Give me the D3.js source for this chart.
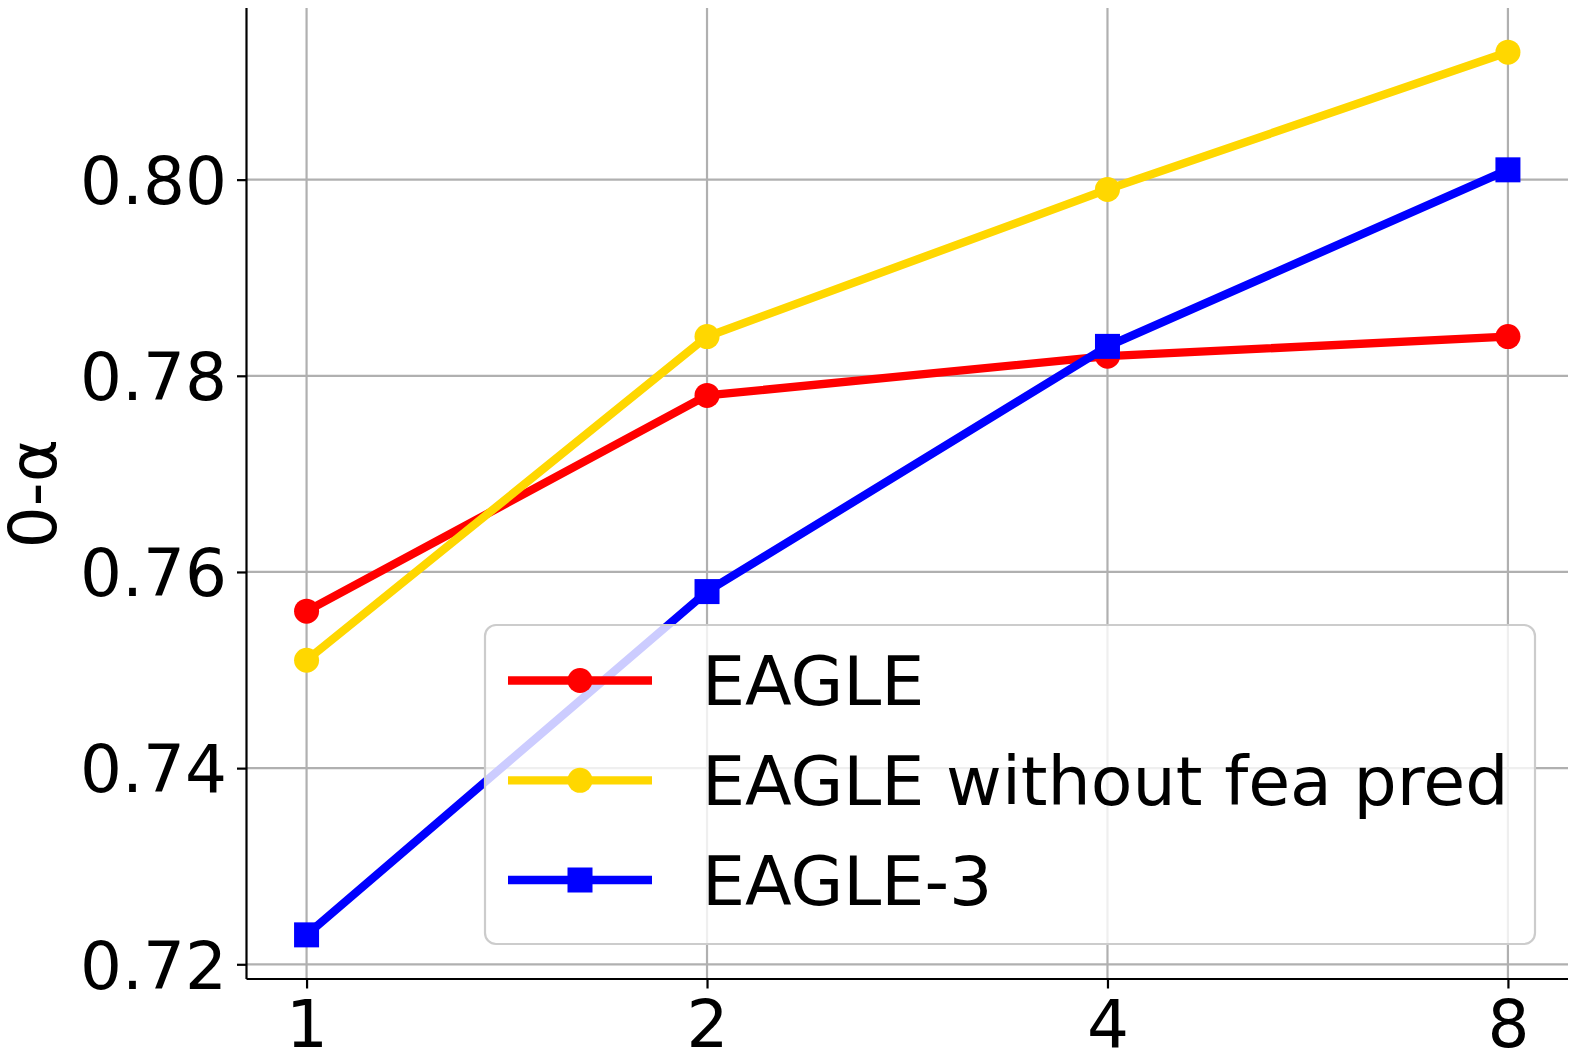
<!DOCTYPE html>
<html>
<head>
<meta charset="utf-8">
<script src="https://cdn.jsdelivr.net/npm/d3@7"></script>
<style>
  html, body { margin: 0; padding: 0; background: #fff; }
  svg { display: block; }
  text { font-family: "DejaVu Sans", sans-serif; }
</style>
</head>
<body>
<svg id="chart" width="1578" height="1057"></svg>
<script>
// ---- data ----
const categories = ["1", "2", "4", "8"];
const eagle = [0.756, 0.778, 0.782, 0.784];
const eagleNoFea = [0.751, 0.784, 0.799, 0.813];
const eagle3 = [0.723, 0.758, 0.783, 0.801];
const yTicks = [0.72, 0.74, 0.76, 0.78, 0.80];
const seriesNames = ["EAGLE", "EAGLE without fea pred", "EAGLE-3"];
const yLabel = "0-α";

const series = [
  { name: seriesNames[0], values: eagle, color: "#ff0000", marker: "circle" },
  { name: seriesNames[1], values: eagleNoFea, color: "#ffd700", marker: "circle" },
  { name: seriesNames[2], values: eagle3, color: "#0000ff", marker: "square" }
];

// ---- layout ----
const L = 246.5, R = 1568, T = 8, B = 979;
const FS = 66;
const LFS = 68.2;
const svg = d3.select("#chart");

const x = d3.scalePoint().domain(categories).range([L, R]).padding(0.15);
const y = d3.scaleLinear().domain([0.7185, 0.8175]).range([B, T]);

// grid
const grid = svg.append("g");
grid.selectAll(".gx").data(categories).enter().append("line")
  .attr("x1", d => x(d)).attr("x2", d => x(d))
  .attr("y1", T).attr("y2", B)
  .attr("stroke", "#b0b0b0").attr("stroke-width", 2.2);
grid.selectAll(".gy").data(yTicks).enter().append("line")
  .attr("x1", L).attr("x2", R)
  .attr("y1", d => y(d)).attr("y2", d => y(d))
  .attr("stroke", "#b0b0b0").attr("stroke-width", 2.2);

// axes
const xAxis = svg.append("g").attr("transform", `translate(0,${B})`)
  .call(d3.axisBottom(x).tickSize(9.5).tickPadding(12));
const yAxis = svg.append("g").attr("transform", `translate(${L},0)`)
  .call(d3.axisLeft(y).tickValues(yTicks).tickFormat(d3.format(".2f")).tickSize(9.5).tickPadding(10));

[xAxis, yAxis].forEach(g => {
  g.select(".domain").attr("stroke", "#000").attr("stroke-width", 2.2);
  g.selectAll(".tick line").attr("stroke", "#000").attr("stroke-width", 2.2);
  g.selectAll(".tick text").attr("fill", "#000").style("font-size", FS + "px")
    .style("font-family", "'DejaVu Sans', sans-serif");
});
xAxis.select(".domain").attr("d", `M${L},0H${R}`);
yAxis.select(".domain").attr("d", `M0,${B}V${T}`);
xAxis.selectAll(".tick text").attr("dy", "0.71em");
yAxis.selectAll(".tick text").attr("dy", "0.36em");

// y label
svg.append("text")
  .attr("transform", `translate(56,${(T + B) / 2}) rotate(-90)`)
  .attr("text-anchor", "middle")
  .style("font-size", FS + "px")
  .attr("fill", "#000")
  .text(yLabel);

// lines + markers
const line = d3.line().x((d, i) => x(categories[i])).y(d => y(d));
const ms = 25;
function drawMarker(g, type, cx, cy, color) {
  if (type === "circle") {
    g.append("circle").attr("cx", cx).attr("cy", cy).attr("r", ms / 2).attr("fill", color);
  } else {
    g.append("rect").attr("x", cx - ms / 2).attr("y", cy - ms / 2)
      .attr("width", ms).attr("height", ms).attr("fill", color);
  }
}
series.forEach(s => {
  const g = svg.append("g");
  g.append("path").datum(s.values).attr("d", line)
    .attr("fill", "none").attr("stroke", s.color).attr("stroke-width", 8.3)
    .attr("stroke-linejoin", "round").attr("stroke-linecap", "square");
  s.values.forEach((v, i) => drawMarker(g, s.marker, x(categories[i]), y(v), s.color));
});

// legend
const lg = svg.append("g");
lg.append("rect")
  .attr("x", 485).attr("y", 625).attr("width", 1535 - 485).attr("height", 944 - 625)
  .attr("rx", 11).attr("ry", 11)
  .attr("fill", "rgba(255,255,255,0.8)")
  .attr("stroke", "#cccccc").attr("stroke-width", 2.2);
const rowY = [680.5, 780.3, 880];
series.forEach((s, i) => {
  const yy = rowY[i];
  lg.append("line").attr("x1", 508).attr("x2", 652).attr("y1", yy).attr("y2", yy)
    .attr("stroke", s.color).attr("stroke-width", 8.3);
  drawMarker(lg, s.marker, 580, yy, s.color);
  lg.append("text").attr("x", 702).attr("y", yy + 24.5)
    .style("font-size", LFS + "px").attr("fill", "#000").text(s.name);
});
</script>
</body>
</html>
